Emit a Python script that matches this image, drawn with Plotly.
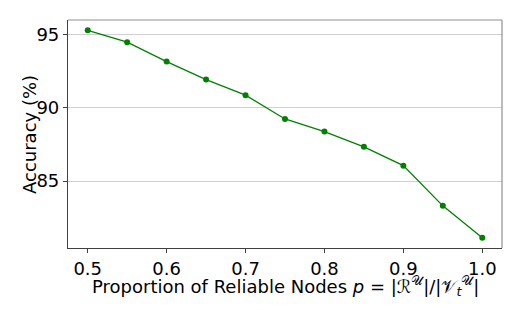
import plotly.graph_objects as go

proportions = [0.5, 0.55, 0.6, 0.65, 0.7, 0.75, 0.8, 0.85, 0.9, 0.95, 1.0]
accuracy = [95.27, 94.46, 93.14, 91.91, 90.85, 89.23, 88.37, 87.33, 86.05, 83.31, 81.14]
x_ticks = [0.5, 0.6, 0.7, 0.8, 0.9, 1.0]
x_tick_labels = ["0.5", "0.6", "0.7", "0.8", "0.9", "1.0"]
y_ticks = [85, 90, 95]
x_title = "Proportion of Reliable Nodes <i>p</i> = |ℛ<sup>𝒰</sup>|/|𝒱<sub><i>t</i></sub><sup>𝒰</sup>|"
y_title = "Accuracy (%)"

fig = go.Figure()
fig.add_trace(go.Scatter(
    x=proportions, y=accuracy, mode="lines+markers",
    line=dict(color="#008000", width=1.3),
    marker=dict(color="#008000", size=6),
    showlegend=False,
))

font = dict(family="DejaVu Sans", size=18, color="#000000")
fig.update_layout(
    width=532, height=319,
    margin=dict(l=68, r=30, t=20, b=71),
    plot_bgcolor="white", paper_bgcolor="white",
    font=font,
    xaxis=dict(
        range=[0.475, 1.025], tickvals=x_ticks, ticktext=x_tick_labels,
        showgrid=False, zeroline=False, automargin=False,
        showline=True, linecolor="#404040", linewidth=1.2,
        ticks="outside", ticklen=4, tickcolor="#404040",
        tickfont=font,
    ),
    yaxis=dict(
        range=[80.44, 95.97], tickvals=y_ticks,
        showgrid=True, gridcolor="#d0d0d0", gridwidth=1,
        zeroline=False, automargin=False,
        showline=True, linecolor="#404040", linewidth=1.2,
        ticks="outside", ticklen=4, tickcolor="#404040",
        tickfont=font,
    ),
)
fig.add_annotation(text=x_title, xref="paper", yref="paper", x=0.5, y=-0.165,
                   xanchor="center", yanchor="middle", showarrow=False, font=font)
fig.add_annotation(text=y_title, xref="paper", yref="paper", x=-0.0899, y=0.5,
                   xanchor="center", yanchor="middle", textangle=-90,
                   showarrow=False, font=font)
# top and right spines (lighter)
fig.add_shape(type="line", xref="paper", yref="paper", x0=0, x1=1, y0=1, y1=1,
              line=dict(color="#909090", width=1.2))
fig.add_shape(type="line", xref="paper", yref="paper", x0=1, x1=1, y0=0, y1=1,
              line=dict(color="#909090", width=1.2))

fig.write_html("out.html", config={"displayModeBar": False},
               post_script="document.body.style.margin='0';")
